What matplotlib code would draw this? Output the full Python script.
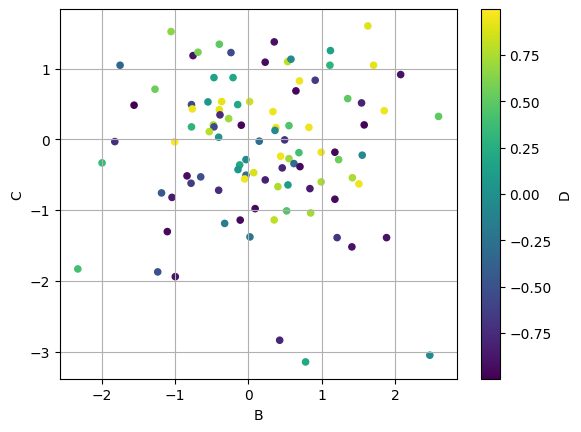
import matplotlib
matplotlib.use("Agg")
import matplotlib.pyplot as plt
import pandas as pd

# B (x), C (y), D (colour)
B = [-1.057, -0.757, -1.753, -1.276, -1.562, -0.778, -0.767, -0.778, -1.825, -1.007,
     -1.999, -0.839, -0.784, -1.187, -1.044, -1.108, -2.330, -1.239, -0.999, -0.398,
     -0.689, -0.239, 0.352, 0.228, 0.535, 0.580, -0.471, -0.211, 0.696, 0.648,
     -0.553, -0.366, -0.147, 0.016, -0.398, -0.389, -0.270, 0.334, -0.480, -0.471,
     -0.098, 0.375, 0.362, 0.553, -0.535, -0.407, 0.147, 0.494, 0.689, 0.439,
     0.553, 0.621, 0.703, 0.461, -0.034, -0.120, -0.143, -0.034, 0.071, -0.052,
     0.229, 0.402, 0.539, -0.652, -0.407, 0.091, 0.521, -0.113, -0.325, 0.351,
     0.020, 1.630, 1.119, 1.112, 1.708, 2.078, 0.911, 1.355, 1.544, 1.853,
     2.595, 1.580, 0.825, 0.993, 1.180, 1.231, 1.553, 1.419, 1.508, 0.993,
     0.839, 1.180, 0.849, 1.210, 1.885, 1.412, 2.476, 0.426, 0.780]
C = [1.525, 1.185, 1.049, 0.710, 0.484, 0.492, 0.431, 0.177, -0.031, -0.035,
     -0.332, -0.516, -0.620, -0.757, -0.820, -1.304, -1.832, -1.874, -1.941, 1.346,
     1.233, 1.228, 1.379, 1.092, 1.100, 1.134, 0.874, 0.874, 0.827, 0.686,
     0.530, 0.535, 0.492, 0.535, 0.421, 0.347, 0.294, 0.393, 0.205, 0.177,
     0.201, 0.167, 0.127, 0.195, 0.110, 0.031, -0.025, -0.007, -0.187, -0.238,
     -0.272, -0.342, -0.385, -0.403, -0.286, -0.361, -0.427, -0.506, -0.470, -0.559,
     -0.573, -0.668, -0.644, -0.530, -0.719, -0.979, -1.011, -1.141, -1.188, -1.139,
     -1.379, 1.605, 1.256, 1.049, 1.049, 0.917, 0.837, 0.577, 0.516, 0.406,
     0.325, 0.205, 0.170, -0.181, -0.181, -0.286, -0.223, -0.542, -0.629, -0.601,
     -0.696, -0.846, -1.040, -1.389, -1.389, -1.520, -3.052, -2.840, -3.147]
D = [0.65, -0.90, -0.35, 0.55, -0.998, -0.55, 0.95, 0.30, -0.72, 0.998,
     0.35, -0.93, -0.65, -0.45, -0.85, -0.95, 0.40, -0.50, -0.90, 0.50,
     0.60, -0.55, -0.92, -0.95, 0.80, -0.05, 0.15, 0.20, 0.95, -0.97,
     0.05, 0.92, 0.20, 0.85, 0.92, -0.75, 0.70, 0.95, 0.75, -0.55,
     -0.97, 0.95, -0.05, 0.45, 0.78, 0.05, -0.30, -0.70, 0.40, 0.95,
     0.70, -0.30, -0.95, -0.80, -0.05, 0.20, 0.05, -0.30, 0.88, 0.95,
     -0.82, 0.75, 0.10, -0.50, -0.75, -0.95, 0.45, -0.95, -0.15, 0.80,
     -0.20, 0.90, 0.15, 0.30, 0.92, -0.90, -0.65, 0.50, -0.80, 0.95,
     0.50, -0.97, 0.95, 0.95, -0.97, 0.55, -0.05, 0.75, 0.95, 0.75,
     -0.85, -0.95, 0.72, -0.70, -0.90, -0.90, -0.05, -0.78, 0.20]

df = pd.DataFrame({"B": B, "C": C, "D": D})

fig, ax = plt.subplots(figsize=(6.4, 4.8))
df.plot.scatter(x="B", y="C", c="D", colormap="viridis", grid=True, ax=ax)

fig.savefig("out.png", dpi=100, bbox_inches="tight")
